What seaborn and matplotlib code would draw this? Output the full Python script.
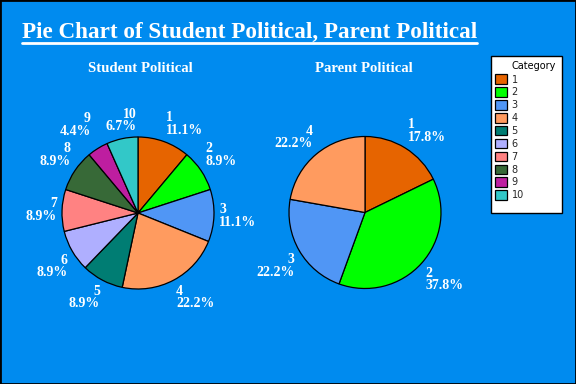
import numpy as np
import pandas as pd
import matplotlib
matplotlib.use("Agg")
import matplotlib.pyplot as plt
import seaborn as sns
from matplotlib.lines import Line2D
from matplotlib.patches import Rectangle

# data (counts out of 45)
categories = ['1', '2', '3', '4', '5', '6', '7', '8', '9', '10']
student_counts = [5, 4, 5, 10, 4, 4, 4, 4, 2, 3]
parent_categories = ['1', '2', '3', '4']
parent_counts = [8, 17, 10, 10]
cat_colors = ['#E66400', '#00FF00', '#5096F5', '#FF9B5F', '#007D73',
              '#AFAFFF', '#FF8282', '#376937', '#BE1EA0', '#32C8C8']

sns.set_style("white")
palette = sns.color_palette(cat_colors)
plt.rcParams['font.family'] = ['Liberation Serif', 'DejaVu Serif']

bg = '#008BEF'
W, H = 576, 384
fig = plt.figure(figsize=(W / 100, H / 100), dpi=100, facecolor=bg)
renderer = fig.canvas.get_renderer()


def pie_axes(cx, cy, r):
    ax = fig.add_axes([(cx - r) / W, (H - cy - r) / H, 2 * r / W, 2 * r / H])
    ax.set_axis_off()
    return ax


def draw_pie(ax, counts, labels, colors):
    total = sum(counts)
    wedges, _ = ax.pie(counts, colors=colors, startangle=90,
                       counterclock=False, radius=1,
                       wedgeprops=dict(edgecolor='black', linewidth=0.9))
    ax.set_xlim(-1, 1)
    ax.set_ylim(-1, 1)
    # labels: nearest corner of the text block sits just outside the rim,
    # pushed outwards if it hits an earlier label
    placed = []
    for w, lab, c in zip(wedges, labels, counts):
        mid = np.deg2rad((w.theta1 + w.theta2) / 2)
        cx, sy = np.cos(mid), np.sin(mid)
        if abs(cx) < 0.25:
            ha = 'center'
        else:
            ha = 'left' if cx > 0 else 'right'
        if abs(sy) < 0.3:
            va = 'center'
        else:
            va = 'bottom' if sy > 0 else 'top'
        d = 1.07
        t = ax.text(d * cx, d * sy, f'{lab}\n{c / total * 100:.1f}%',
                    ha=ha, va=va, color='white', fontsize=10, fontweight='bold',
                    linespacing=0.95, multialignment='left' if cx > 0 else 'right')
        for _ in range(40):
            bb = t.get_window_extent(renderer).padded(4)
            if not any(bb.overlaps(p) for p in placed):
                break
            d += 0.02
            t.set_position((d * cx, d * sy))
        placed.append(t.get_window_extent(renderer))
    return wedges


ax1 = pie_axes(138, 213, 76)
wedges = draw_pie(ax1, student_counts, categories, palette)
ax2 = pie_axes(365, 212.5, 76)
draw_pie(ax2, parent_counts, parent_categories, palette[:4])

fig.text(140 / W, 1 - 68 / H, 'Student Political', ha='center', va='center',
         color='white', fontsize=10.6, fontweight='bold')
fig.text(364 / W, 1 - 68 / H, 'Parent Political', ha='center', va='center',
         color='white', fontsize=10.6, fontweight='bold')

title = fig.text(22 / W, 1 - 32 / H, 'Pie Chart of Student Political, Parent Political',
                 ha='left', va='center', color='white', fontsize=16.7, fontweight='bold')

# legend box
fig.add_artist(Rectangle((491 / W, 1 - 213 / H), 71 / W, 157 / H, transform=fig.transFigure,
                         facecolor='white', edgecolor='black', linewidth=1))
fig.text(512 / W, 1 - 66 / H, 'Category', ha='left', va='center', color='black',
         family='DejaVu Sans', fontsize=7)
fs = 7 * 100 / 72
leg = fig.legend(wedges, categories, loc='upper left',
                 bbox_to_anchor=(495 / W, 1 - 74.5 / H), frameon=False,
                 prop={'family': 'DejaVu Sans', 'size': 7},
                 handlelength=11.5 / fs, handleheight=11 / fs, labelspacing=2.8 / fs,
                 handletextpad=5 / fs, borderpad=0, borderaxespad=0)

# underline the title
fig.canvas.draw()
bb = title.get_window_extent()
x0, x1 = bb.x0 / W, bb.x1 / W
y = (bb.y0 - 0.5) / H
fig.add_artist(Line2D([x0, x1], [y, y], color='white', linewidth=2))

# black border around the image
fig.add_artist(Rectangle((0, 0), 1, 1, transform=fig.transFigure, fill=False,
                         edgecolor='black', linewidth=2))

fig.savefig('out.png', dpi=100, facecolor=bg)
